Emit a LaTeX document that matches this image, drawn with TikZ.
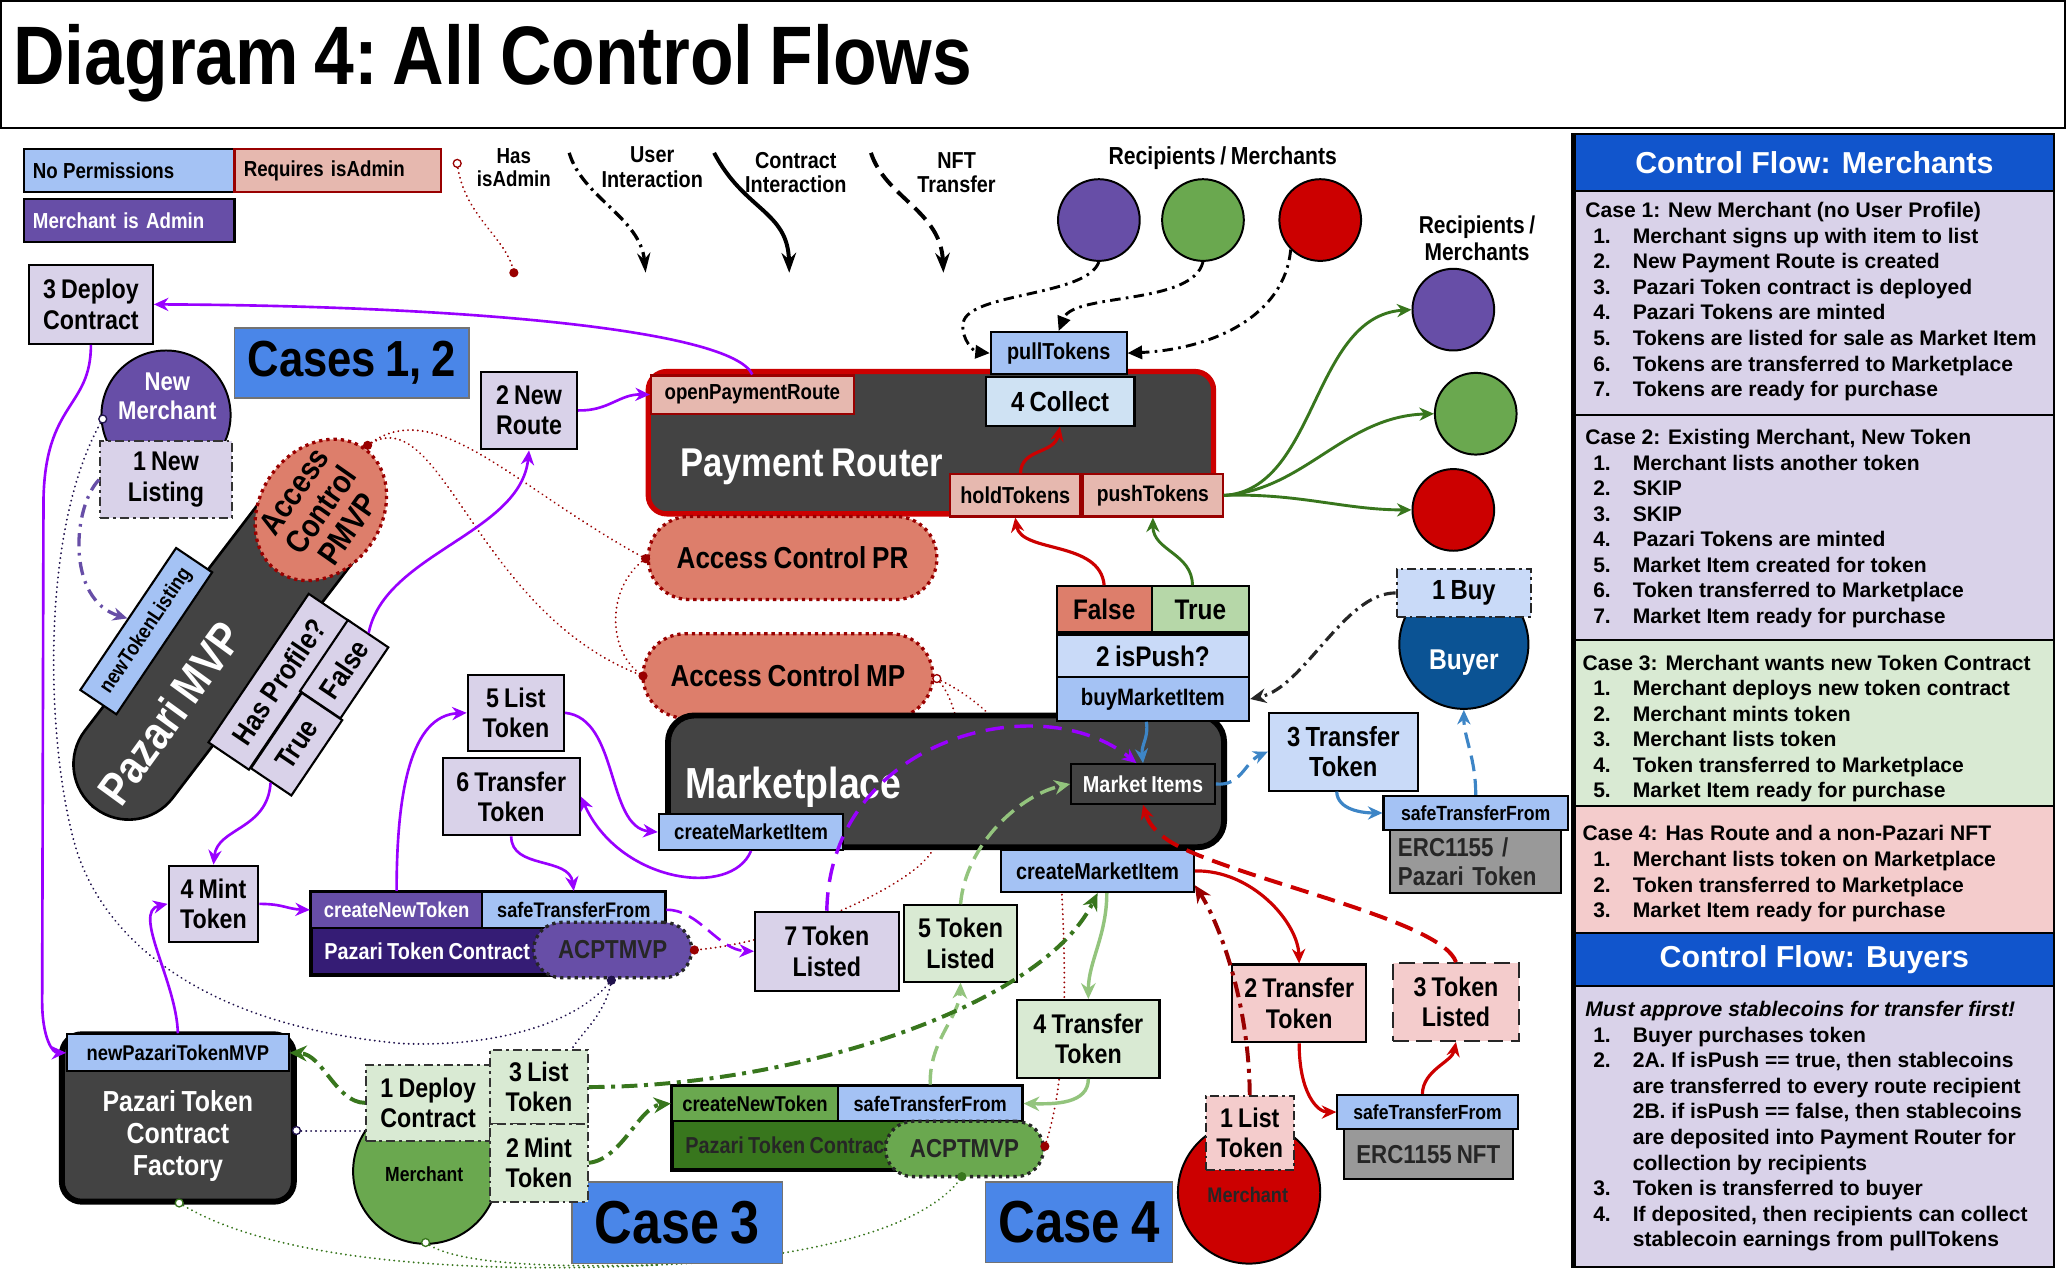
\documentclass[tikz,border=0pt]{standalone}
\usepackage{fontspec}
\setmainfont{Liberation Sans}
\newfontfamily\nf[FakeStretch=0.86, WordSpace=0.8]{Liberation Sans}
\usetikzlibrary{arrows.meta,shapes.geometric}
\pgfdeclarelayer{bg}
\pgfsetlayers{bg,main}
\definecolor{lav}{HTML}{D9D2E9}
\definecolor{lblue}{HTML}{A4C2F4}
\definecolor{llblue}{HTML}{C9DAF8}
\definecolor{cblue}{HTML}{CFE2F3}
\definecolor{rpink}{HTML}{E6B8AF}
\definecolor{lpink}{HTML}{F4CCCC}
\definecolor{salmon}{HTML}{DD7E6B}
\definecolor{lgreen}{HTML}{D9EAD3}
\definecolor{mgreen}{HTML}{B6D7A8}
\definecolor{gcirc}{HTML}{6AA84F}
\definecolor{dgreen}{HTML}{38761D}
\definecolor{agreen}{HTML}{93C47D}
\definecolor{purp}{HTML}{674EA7}
\definecolor{dpurp}{HTML}{351C75}
\definecolor{vio}{HTML}{9900FF}
\definecolor{dgray}{HTML}{434343}
\definecolor{mgray}{HTML}{999999}
\definecolor{cblu}{HTML}{4A86E8}
\definecolor{hblue}{HTML}{1155CC}
\definecolor{rred}{HTML}{CC0000}
\definecolor{dred}{HTML}{990000}
\definecolor{bblue}{HTML}{3D85C6}
\definecolor{navy}{HTML}{0B5394}
\definecolor{dotnavy}{HTML}{20124D}
\newcommand\itm[4]{\node[pf] (#1n) at (1209,#2) {#3}; \node[pf] (#1t) at (1239,#2) {#4};}
\newcommand\itc[3]{\node[pf] (#1t) at (1239,#2) {#3};}
\begin{document}
\begin{tikzpicture}[x=1pt,y=-1pt,
 bx/.style={draw=black, line width=1.6pt, inner sep=0pt, align=center, rectangle},
 fs/.style 2 args={font={\nf\bfseries\fontsize{#1}{#2}\selectfont}},
 lb/.style={bx, fill=lav, fs={20.5}{23}},
 gb/.style={bx, fill=lgreen, fs={20.5}{23}},
 pb/.style={bx, fill=lpink, fs={20.5}{23}},
 ddb/.style={dash pattern=on 7pt off 3pt on 2pt off 3pt},
 pf/.style={font={\bfseries\fontsize{16}{19.4}\selectfont}, anchor=base west, inner sep=0pt},
 dd/.style={dash pattern=on 9pt off 4pt on 2pt off 4pt},
 dsh/.style={dash pattern=on 12pt off 6pt},
 dt/.style={line width=1.5pt, dash pattern=on 0.1pt off 3.6pt, line cap=round},
 dotr/.style={circle, fill=dred, inner sep=0pt, minimum size=7pt},
 doto/.style={circle, draw=#1, fill=white, inner sep=0pt, minimum size=6pt, line width=1pt},
 circ/.style={circle, draw=black, line width=1.5pt, minimum size=62pt, inner sep=0pt},
 acs/.style={draw=dred, fill=salmon, line width=2.5pt, dash pattern=on 2.5pt off 3pt, inner sep=0pt, align=center},
 acpt/.style={draw=black!85, line width=2.5pt, dash pattern=on 2.5pt off 3pt, inner sep=0pt, text=black!85, fs={19.7}{21}},
 pa/.style={draw=vio, line width=2pt, -{Stealth[length=11pt,width=10pt]}},
 ka/.style={draw=black, line width=2.2pt, dash pattern=on 8pt off 4pt on 2pt off 4pt, -{Triangle[length=11pt,width=10pt]}},
 ga/.style={draw=dgreen, line width=2.2pt, -{Stealth[length=11pt,width=10pt]}},
 ra/.style={draw=rred, line width=2.4pt, -{Stealth[length=11pt,width=10pt]}},
 ba/.style={draw=bblue, line width=2.4pt, -{Stealth[length=11pt,width=10pt]}},
 lga/.style={draw=agreen, line width=2.6pt, -{Stealth[length=12pt,width=11pt]}},
 dga/.style={draw=dgreen, line width=3pt, dash pattern=on 12pt off 5pt on 3pt off 5pt, -{Stealth[length=13pt,width=12pt]}},
 dra/.style={draw=dred, line width=3pt, dash pattern=on 12pt off 5pt on 3pt off 5pt, -{Stealth[length=13pt,width=12pt]}},
]
\begin{pgfonlayer}{bg}
\fill[white] (0,0) rectangle (1568,966);
\end{pgfonlayer}
\useasboundingbox (0,0) rectangle (1568,966);

% title
\draw[line width=1.2pt] (0.6,0.6) rectangle (1567.4,97);
\node[anchor=base west, inner sep=0pt, font={\nf\bfseries\fontsize{63}{63}\selectfont}] (title) at (10,64) {Diagram 4:\kern-6pt{} All Control Flows};

% legend
\node[bx, fill=lblue, minimum width=160pt, minimum height=33pt, text width=146pt, align=left, fs={16.5}{18}] (noperm) at (98,129.5) {No\kern-1.5pt{} Permissions};
\node[bx, draw=dred, fill=rpink, minimum width=157pt, minimum height=33pt, text width=143pt, align=left, fs={16.5}{18}] (reqadm) at (256.5,129.5) {Requires isAdmin};
\node[bx, fill=purp, text=white, minimum width=160pt, minimum height=33pt, text width=146pt, align=left, fs={16.5}{18}] (madm) at (98,167.5) {Merchant is Admin};
\node[inner sep=0pt, align=center, fs={16.5}{17.5}] (lhas) at (390,127) {Has\\isAdmin};
\node[inner sep=0pt, align=center, fs={17.5}{18.5}] (luser) at (495,127) {User\\Interaction};
\node[inner sep=0pt, align=center, fs={17.5}{18.5}] (lcon) at (604,131) {Contract\\Interaction};
\node[inner sep=0pt, align=center, fs={17.5}{18.5}] (lnft) at (726,131) {NFT\\Transfer};
\coordinate (hasA) at (347,124);
\coordinate (hasB) at (390,207);
\coordinate (uiA) at (432,116);
\coordinate (uiB) at (490,207);
\coordinate (ciA) at (542,116);
\coordinate (ciB) at (599,207);
\coordinate (nfA) at (661,116);
\coordinate (nfB) at (716,207);
\draw[dred, dt] (hasA) .. controls (352,165) and (385,180) .. (hasB);
\draw[line width=2.5pt, dd, -{Stealth[length=15pt,width=10pt]}] (uiA) .. controls (442,150) and (486,165) .. (uiB);
\draw[line width=3pt, -{Stealth[length=15pt,width=11pt]}] (ciA) .. controls (565,160) and (598,160) .. (ciB);
\draw[line width=3pt, dsh, -{Stealth[length=15pt,width=11pt]}] (nfA) .. controls (672,150) and (714,160) .. (nfB);
\node[doto=dred] (hasAo) at (hasA) {};
\node[dotr] (hasBd) at (hasB) {};

% recipients
\node[inner sep=0pt, fs={18.7}{20}] (lrec1) at (928,120) {Recipients / Merchants};
\node[inner sep=0pt, align=center, fs={18.5}{20.5}] (lrec2) at (1121,181) {Recipients /\\Merchants};
\node[circ, fill=purp] (rp1) at (834,167) {};
\node[circ, fill=gcirc] (rg1) at (913,167) {};
\node[circ, fill=rred] (rr1) at (1002,167) {};
\node[circ, fill=purp] (rp2) at (1103,235) {};
\node[circ, fill=gcirc] (rg2) at (1120,314) {};
\node[circ, fill=rred] (rr2) at (1103,387) {};

% payment router
\node[bx, rounded corners=14pt, fill=dgray, draw=rred, line width=4pt, minimum width=429pt, minimum height=108pt] (pr) at (706.5,336) {};
\node[fs={30.5}{32}, text=white, anchor=base west, inner sep=0pt] (prt) at (516,362) {Payment Router};
\node[bx, draw=dred, fill=rpink, minimum width=154pt, minimum height=29pt, fs={16.5}{18}] (openpr) at (571,299.5) {openPaymentRoute};
\node[bx, fill=lblue, minimum width=103pt, minimum height=32pt, fs={17.5}{19}] (pull) at (803.5,268) {pullTokens};
\node[bx, fill=cblue, minimum width=113pt, minimum height=37pt, fs={21}{23}] (collect) at (804.5,304.5) {4 Collect};
\node[bx, draw=dred, fill=rpink, minimum width=99pt, minimum height=32pt, fs={17.5}{19}] (hold) at (770.5,376) {holdTokens};
\node[bx, draw=dred, fill=rpink, minimum width=106pt, minimum height=32pt, fs={17}{19}] (push) at (875,376) {pushTokens};

% access control
\node[acs, rounded corners=31pt, minimum width=219pt, minimum height=63pt, fs={23}{25}] (acpr) at (601.5,423.5) {Access Control PR};
\node[acs, rounded corners=32pt, minimum width=220pt, minimum height=64pt, fs={23}{25}] (acmp) at (598,513) {Access Control MP};

% marketplace
\node[bx, rounded corners=20pt, fill=dgray, line width=4.5pt, minimum width=422pt, minimum height=100pt] (mp) at (718,593) {};
\node[fs={33}{35}, text=white, anchor=base west, inner sep=0pt] (mpt) at (520,606) {Marketplace};
\node[bx, fill=lblue, minimum width=140pt, minimum height=27pt, fs={16.5}{18}] (cmiL) at (570,631.5) {createMarketItem};
\node[bx, fill=dgray, text=white, minimum width=109pt, minimum height=30pt, fs={17.5}{19}] (mi) at (867.5,595) {Market Items};
\node[bx, fill=lblue, minimum width=146pt, minimum height=32pt, fs={17.5}{19}] (cmiR) at (833,661) {createMarketItem};
\node[bx, fill=lblue, minimum width=146pt, minimum height=33pt, fs={18}{19}] (buymi) at (875,530.5) {buyMarketItem};
\node[bx, fill=llblue, minimum width=146pt, minimum height=32pt, fs={21.5}{23}] (ispush) at (875,498) {2 isPush?};
\node[bx, fill=salmon, minimum width=72pt, minimum height=35pt, fs={21.5}{23}] (falseB) at (838,462.5) {False};
\node[bx, fill=mgreen, minimum width=74pt, minimum height=35pt, fs={21.5}{23}] (trueB) at (911,462.5) {True};

% case labels
\node[bx, fill=cblu, draw=black!55, line width=1pt, minimum width=178pt, minimum height=53pt, fs={38.5}{40}] (cases12) at (267,275.5) {Cases 1, 2};
\node[bx, fill=cblu, draw=black!55, line width=1pt, minimum width=160pt, minimum height=62pt, fs={46}{48}] (case3) at (514,928) {Case 3};
\node[bx, fill=cblu, draw=black!55, line width=1pt, minimum width=142pt, minimum height=61pt, fs={45}{47}] (case4) at (819,927.5) {Case 4};

% left group
\node[lb, minimum width=94pt, minimum height=60pt] (dep3) at (69,231) {3 Deploy\\Contract};
\node[lb, minimum width=73pt, minimum height=59pt] (route2) at (401.5,311.5) {2 New\\Route};
\node[circle, draw=black, fill=purp, line width=1.5pt, minimum size=98pt, inner sep=0pt] (newm) at (126,315) {};
\node[fs={19.5}{22}, text=white, align=center, inner sep=0pt] (newmt) at (127,301) {New\\Merchant};
\node[lb, ddb, draw=black!80, minimum width=100pt, minimum height=58pt] (list1) at (126,364) {1 New\\Listing};

\node[draw=black, line width=2pt, fill=dgray, rounded corners=42pt, minimum width=312pt, minimum height=84pt, rotate=52.6, inner sep=0pt] (pmvp) at (167,489.5) {};
\node[fs={35}{36}, text=white, rotate=54, inner sep=0pt] (pmvpt) at (129,541) {Pazari MVP};
\node[ellipse, acs, minimum width=114pt, minimum height=92pt, rotate=55] (acpm) at (243.5,387) {};
\node[fs={24.5}{25}, rotate=55, align=center, inner sep=0pt] (acpmt) at (243.5,387) {Access\\Control\\PMVP};
\node[bx, fill=lblue, rotate=56, minimum width=130pt, minimum height=33pt, fs={16}{17}] (ntl) at (111,479) {newTokenListing};
\node[lb, rotate=56, minimum width=136pt, minimum height=37pt, fs={22}{24}] (hasp) at (211.6,517.4) {Has Profile?};
\node[lb, rotate=56, minimum width=65pt, minimum height=37pt, fs={22}{24}] (falseP) at (261.2,507.9) {False};
\node[lb, rotate=56, minimum width=69pt, minimum height=37pt, fs={22}{24}] (trueP) at (225.1,564.8) {True};

\node[lb, minimum width=68pt, minimum height=58pt] (mint4) at (162,686) {4 Mint\\Token};
\node[lb, minimum width=73pt, minimum height=58pt] (list5) at (391.5,541) {5 List\\Token};
\node[lb, minimum width=104pt, minimum height=59pt] (tr6) at (388,604.5) {6 Transfer\\Token};
\node[lb, minimum width=109pt, minimum height=60pt] (tok7) at (627.5,722) {7 Token\\Listed};

% purple contract
\node[bx, fill=dpurp, line width=2.5pt, minimum width=269pt, minimum height=63pt] (bodyP) at (370.5,708.5) {};
\node[fs={17.5}{19}, text=white, anchor=west, inner sep=0pt] (bodyPt) at (246,722) {Pazari Token Contract};
\node[bx, fill=purp, text=white, minimum width=130pt, minimum height=27pt, fs={16.3}{18}] (cntP) at (301,690.5) {createNewToken};
\node[bx, fill=lblue, minimum width=139pt, minimum height=27pt, fs={16}{18}] (stfP) at (435.5,690.5) {safeTransferFrom};
\node[acpt, fill=purp, rounded corners=21pt, minimum width=120pt, minimum height=42pt] (acptP) at (465,721) {ACPTMVP};

% factory
\node[bx, rounded corners=15pt, fill=dgray, line width=4.5pt, minimum width=176pt, minimum height=127pt] (fact) at (135,848.5) {};
\node[bx, fill=lblue, minimum width=168pt, minimum height=28pt, fs={16.2}{18}] (newpt) at (135,799) {newPazariTokenMVP};
\node[fs={22}{24.5}, text=white, align=center, inner sep=0pt] (factt) at (135,862) {Pazari Token\\Contract\\Factory};

% case 3 group
\node[circle, draw=black, fill=gcirc, line width=1.5pt, minimum size=110pt, inner sep=0pt] (merchG) at (323,889) {};
\node[fs={15.5}{17}, inner sep=0pt] (merchGt) at (322,891) {Merchant};
\node[gb, ddb, draw=black!80, minimum width=94pt, minimum height=58pt] (depG) at (325,837) {1 Deploy\\Contract};
\node[gb, ddb, draw=black!80, minimum width=74pt, minimum height=56pt] (listG) at (409,825) {3 List\\Token};
\node[gb, ddb, draw=black!80, minimum width=74pt, minimum height=59pt] (mintG) at (409,882.5) {2 Mint\\Token};

\node[bx, fill=dgreen, line width=2.5pt, minimum width=266pt, minimum height=64pt] (bodyG) at (643,856) {};
\node[fs={17.5}{19}, text=black!85, anchor=west, inner sep=0pt] (bodyGt) at (520,869.5) {Pazari Token Contract};
\node[bx, fill=gcirc, minimum width=126pt, minimum height=27pt, fs={16.3}{18}] (cntG) at (573,837.5) {createNewToken};
\node[bx, fill=lblue, minimum width=140pt, minimum height=27pt, fs={16}{18}] (stfG) at (706,837.5) {safeTransferFrom};
\node[acpt, fill=gcirc, rounded corners=21pt, minimum width=120pt, minimum height=42pt] (acptG) at (732,872) {ACPTMVP};

\node[gb, minimum width=86pt, minimum height=58pt] (tok5) at (729,716) {5 Token\\Listed};
\node[gb, minimum width=108pt, minimum height=59pt] (tr4) at (826,788.5) {4 Transfer\\Token};

% case 4 group
\node[circle, draw=black, fill=rred, line width=1.5pt, minimum size=108pt, inner sep=0pt] (merchR) at (948,905) {};
\node[fs={16}{17}, text=black!85, inner sep=0pt] (merchRt) at (947,907) {Merchant};
\node[pb, ddb, draw=black!85, minimum width=67pt, minimum height=56pt] (list1R) at (948.5,860) {1 List\\Token};
\node[pb, minimum width=102pt, minimum height=59pt] (tr2R) at (986,761.5) {2 Transfer\\Token};
\node[pb, dsh, draw=black!85, minimum width=96pt, minimum height=59pt] (tl3R) at (1105,760.5) {3 Token\\Listed};
\node[bx, fill=mgray, minimum width=128pt, minimum height=38pt, text=black!85, fs={19.7}{21}] (ercN) at (1084,876) {ERC1155 NFT};
\node[bx, fill=lblue, minimum width=137pt, minimum height=26pt, fs={15.5}{17}] (stfR) at (1083.5,844) {safeTransferFrom};

% buyer group
\node[circle, draw=black, fill=navy, line width=1.5pt, minimum size=98pt, inner sep=0pt] (buyer) at (1111,489) {};
\node[fs={21.7}{23}, text=white, inner sep=0pt] (buyert) at (1111,503) {Buyer};
\node[bx, ddb, draw=black!85, fill=llblue, minimum width=102pt, minimum height=36pt, fs={21}{23}] (buy1) at (1111,450) {1 Buy};
\node[bx, fill=llblue, minimum width=113pt, minimum height=59pt, fs={21}{23}] (tr3) at (1019.5,570.5) {3 Transfer\\Token};
\node[bx, fill=mgray, minimum width=130pt, minimum height=48pt, text width=118pt, align=left, text=black!85, fs={19.7}{22}] (ercP) at (1120,654) {ERC1155 /\\Pazari Token};
\node[bx, fill=lblue, minimum width=140pt, minimum height=26pt, fs={15.6}{17}] (stfB) at (1120,617) {safeTransferFrom};

% right panel
\node[draw=black, line width=1.5pt, fill=hblue, minimum width=364pt, minimum height=43pt, inner sep=0pt, text=white, font={\bfseries\fontsize{23}{25}\selectfont}] (hdr1) at (1377,123.5) {Control Flow: Merchants};
\node[draw=black, line width=1.5pt, fill=lav, minimum width=364pt, minimum height=170pt, inner sep=0pt] (c1box) at (1377,230) {};
\node[draw=black, line width=1.5pt, fill=lav, minimum width=364pt, minimum height=171pt, inner sep=0pt] (c2box) at (1377,400.5) {};
\node[draw=black, line width=1.5pt, fill=lgreen, minimum width=364pt, minimum height=126pt, inner sep=0pt] (c3box) at (1377,549) {};
\node[draw=black, line width=1.5pt, fill=lpink, minimum width=364pt, minimum height=96pt, inner sep=0pt] (c4box) at (1377,660) {};
\node[draw=black, line width=1.5pt, fill=hblue, minimum width=364pt, minimum height=40pt, inner sep=0pt, text=white, font={\bfseries\fontsize{23}{25}\selectfont}] (hdr2) at (1377,728) {Control Flow: Buyers};
\node[draw=black, line width=1.5pt, fill=lav, minimum width=364pt, minimum height=213pt, inner sep=0pt] (bbox) at (1377,855) {};
\draw[line width=4pt] (hdr1.north west) -- (bbox.south west);

\node[pf] (c1h) at (1203,165) {Case 1: New Merchant (no User Profile)};
\itm{ca}{184.6}{1.}{Merchant signs up with item to list}
\itm{cb}{204}{2.}{New Payment Route is created}
\itm{cc}{223.4}{3.}{Pazari Token contract is deployed}
\itm{cd}{242.8}{4.}{Pazari Tokens are minted}
\itm{ce}{262.2}{5.}{Tokens are listed for sale as Market Item}
\itm{cf}{281.6}{6.}{Tokens are transferred to Marketplace}
\itm{cg}{301}{7.}{Tokens are ready for purchase}

\node[pf] (c2h) at (1203,337) {Case 2: Existing Merchant, New Token};
\itm{da}{356.8}{1.}{Merchant lists another token}
\itm{db}{376.2}{2.}{SKIP}
\itm{dc}{395.6}{3.}{SKIP}
\itm{dd}{415}{4.}{Pazari Tokens are minted}
\itm{de}{434.4}{5.}{Market Item created for token}
\itm{df}{453.8}{6.}{Token transferred to Marketplace}
\itm{dg}{473.2}{7.}{Market Item ready for purchase}

\node[pf] (c3h) at (1201,508.6) {Case 3: Merchant wants new Token Contract};
\itm{ea}{528}{1.}{Merchant deploys new token contract}
\itm{eb}{547.4}{2.}{Merchant mints token}
\itm{ec}{566.8}{3.}{Merchant lists token}
\itm{ed}{586.2}{4.}{Token transferred to Marketplace}
\itm{ee}{605.6}{5.}{Market Item ready for purchase}

\node[pf] (c4h) at (1201,638) {Case 4: Has Route and a non-Pazari NFT};
\itm{fa}{657.5}{1.}{Merchant lists token on Marketplace}
\itm{fb}{677}{2.}{Token transferred to Marketplace}
\itm{fc}{696.5}{3.}{Market Item ready for purchase}

\node[pf, font={\bfseries\itshape\fontsize{16}{19.4}\selectfont}] (bh) at (1203,771.5) {Must approve stablecoins for transfer first!};
\itm{ga}{791}{1.}{Buyer purchases token}
\itm{gb}{810.4}{2.}{2A. If isPush == true, then stablecoins}
\itc{gc}{829.8}{are transferred to every route recipient}
\itc{gd}{849.2}{2B. if isPush == false, then stablecoins}
\itc{ge}{868.6}{are deposited into Payment Router for}
\itc{gf}{888}{collection by recipients}
\itm{gg}{907.4}{3.}{Token is transferred to buyer}
\itm{gh}{926.8}{4.}{If deposited, then recipients can collect}
\itc{gi}{946.2}{stablecoin earnings from pullTokens}

% dot coordinates
\coordinate (pmvpDot) at (279,338);
\coordinate (acprDot) at (490,424);
\coordinate (acmpDotL) at (488,513);
\coordinate (acmpDotR) at (711,515);
\coordinate (acptPdotR) at (527,721);
\coordinate (acptPdotB) at (464,744);
\coordinate (acptGdotR) at (793,870);
\coordinate (acptGdotB) at (730,893);
\coordinate (newmDot) at (78,318);
\coordinate (factDotR) at (225,858);
\coordinate (factDotB) at (136,913);
\coordinate (merchGdotB) at (323,943);
\coordinate (j1) at (500,960);

\begin{pgfonlayer}{bg}
\draw[dred, dt] (pmvpDot) .. controls (330,298) and (390,370) .. (acprDot);
\draw[dred, dt] (pmvpDot) .. controls (335,300) and (360,465) .. (acmpDotL);
\draw[dred, dt] (acprDot) .. controls (460,445) and (460,495) .. (acmpDotL);
\draw[dred, dt] (acmpDotR) .. controls (735,540) and (735,610) .. (706,648) .. controls (690,672) and (600,715) .. (acptPdotR);
\draw[dred, dt] (acmpDotR) .. controls (765,540) and (805,600) .. (806,681) .. controls (810,760) and (808,825) .. (acptGdotR);
\draw[dotnavy, dt] (newmDot) .. controls (30,400) and (35,560) .. (56,638) .. controls (75,710) and (150,778) .. (305,792) .. controls (380,795) and (440,775) .. (acptPdotB);
\draw[dotnavy, dt] (factDotR) -- (depG.west |- factDotR);
\draw[dotnavy, dt] (acptPdotB) .. controls (460,770) and (440,785) .. ([xshift=25pt]listG.north);
\draw[dgreen, dt] (factDotB) .. controls (220,965) and (400,965) .. (j1) .. controls (620,955) and (705,930) .. (acptGdotB);
\draw[dgreen, dt] (merchGdotB) .. controls (345,960) and (420,962) .. (j1);
\end{pgfonlayer}

% purple connectors
\draw[pa] (openpr.north) .. controls (555,250) and (350,232) .. (dep3.east);
\draw[pa] (route2.east) .. controls (462,312) and (470,299) .. (openpr.west);
\draw[pa] (dep3.south) .. controls (69,310) and (34,305) .. (33,380) -- (32,760) .. controls (32,788) and (40,799) .. (newpt.west);
\draw[pa] (trueP.west) .. controls (203,630) and (165,628) .. (mint4.north);
\draw[pa] (falseP.east) .. controls (292,420) and (395,405) .. (route2.south);
\draw[pa] (newpt.north) .. controls (134,745) and (100,692) .. (mint4.west);
\draw[pa] (mint4.east) .. controls (215,686) and (218,690) .. (cntP.west);
\draw[pa] (cntP.north) .. controls (301,600) and (312,543) .. (list5.west);
\draw[pa] (list5.east) .. controls (470,545) and (460,628) .. (cmiL.west);
\draw[pa] (cmiL.south) .. controls (555,682) and (470,670) .. (tr6.east);
\draw[pa] (tr6.south) .. controls (388,660) and (432,650) .. (stfP.north);
\draw[pa, dsh] (stfP.east) .. controls (530,690) and (545,721) .. (tok7.west);
\draw[pa, line width=2.6pt, dash pattern=on 14pt off 8pt] (tok7.north) .. controls (630,560) and (790,520) .. ([xshift=-5pt]mi.north);
\draw[draw=purp, line width=2.5pt, dash pattern=on 10pt off 5pt on 2pt off 5pt, -{Stealth[length=11pt,width=10pt]}] (list1.west) .. controls (55,385) and (50,455) .. (ntl.north);

% black dash-dot to pullTokens
\draw[ka] (rp1.south) .. controls (825,225) and (735,222) .. (731,245) .. controls (729,258) and (740,267) .. (pull.west);
\draw[ka] (rg1.south) .. controls (905,232) and (815,222) .. (pull.north);
\draw[ka] (rr1.south west) .. controls (975,240) and (920,265) .. (pull.east);

% green push
\draw[ga] (push.east) .. controls (1000,372) and (995,240) .. (rp2.west);
\draw[ga] (push.east) .. controls (990,372) and (1020,316) .. (rg2.west);
\draw[ga] (push.east) .. controls (985,374) and (1020,387) .. (rr2.west);
\draw[ga] ([xshift=-6pt]trueB.north) .. controls (905,420) and (875,418) .. (push.south);

% red router
\draw[ra] (falseB.north) .. controls (835,410) and (775,420) .. (hold.south);
\draw[ra] ([xshift=4pt]hold.north) .. controls (775,340) and (800,345) .. (collect.south);

% blue buyer
\draw[ba] ([xshift=-5pt]buymi.south) .. controls (872,560) and (866,565) .. (mi.north);
\draw[ba, dsh] (mi.east) .. controls (942,597) and (945,578) .. (tr3.west);
\draw[ba] ([xshift=-5pt]tr3.south) .. controls (1015,615) and (1035,617) .. (stfB.west);
\draw[ba, dsh] (stfB.north) .. controls (1120,575) and (1111,560) .. (buyer.south);
\draw[draw=black!85, line width=2.4pt, dash pattern=on 9pt off 4pt on 2pt off 4pt, -{Stealth[length=12pt,width=11pt]}] (buy1.west) .. controls (1020,450) and (990,522) .. (buymi.east);

% light green
\draw[lga, dsh] (stfG.north) .. controls (705,790) and (728,772) .. (tok5.south);
\draw[lga, dsh] (tok5.north) .. controls (733,640) and (775,603) .. (mi.west);
\draw[lga] ([xshift=7pt]cmiR.south) .. controls (840,710) and (826,730) .. (tr4.north);
\draw[lga] (tr4.south) .. controls (826,838) and (800,838) .. (stfG.east);

% dark green dash-dot
\draw[dga] (depG.west) .. controls (255,837) and (245,800) .. (newpt.east);
\draw[dga] (listG.east) .. controls (600,825) and (790,765) .. (cmiR.south);
\draw[dga] (mintG.east) .. controls (472,880) and (485,840) .. (cntG.west);

% case 4 red
\draw[dra] (list1R.north) .. controls (948,760) and (925,700) .. ([yshift=6pt]cmiR.south east);
\draw[ra] (cmiR.east) .. controls (950,660) and (985,700) .. (tr2R.north);
\draw[ra] (tr2R.south) .. controls (986,830) and (1000,844) .. (stfR.west);
\draw[ra] ([xshift=-4pt]stfR.north) .. controls (1080,812) and (1102,806) .. (tl3R.south);
\draw[ra, line width=3pt, dash pattern=on 14pt off 7pt] (tl3R.north) .. controls (1095,700) and (960,672) .. (900,645) .. controls (880,636) and (872,626) .. (mi.south);

% dots
\node[dotr] (d1) at (pmvpDot) {};
\node[dotr] (d2) at (acprDot) {};
\node[dotr] (d3) at (acmpDotL) {};
\node[doto=dred] (d4) at (acmpDotR) {};
\node[dotr] (d5) at (acptPdotR) {};
\node[circle, fill=dotnavy, inner sep=0pt, minimum size=7pt] (d6) at (acptPdotB) {};
\node[dotr] (d7) at (acptGdotR) {};
\node[circle, fill=dgreen, inner sep=0pt, minimum size=7pt] (d8) at (acptGdotB) {};
\node[doto=dotnavy] (d9) at (newmDot) {};
\node[doto=dotnavy] (d10) at (factDotR) {};
\node[doto=dgreen] (d11) at (factDotB) {};
\node[doto=dgreen] (d12) at (merchGdotB) {};
\end{tikzpicture}
\end{document}
